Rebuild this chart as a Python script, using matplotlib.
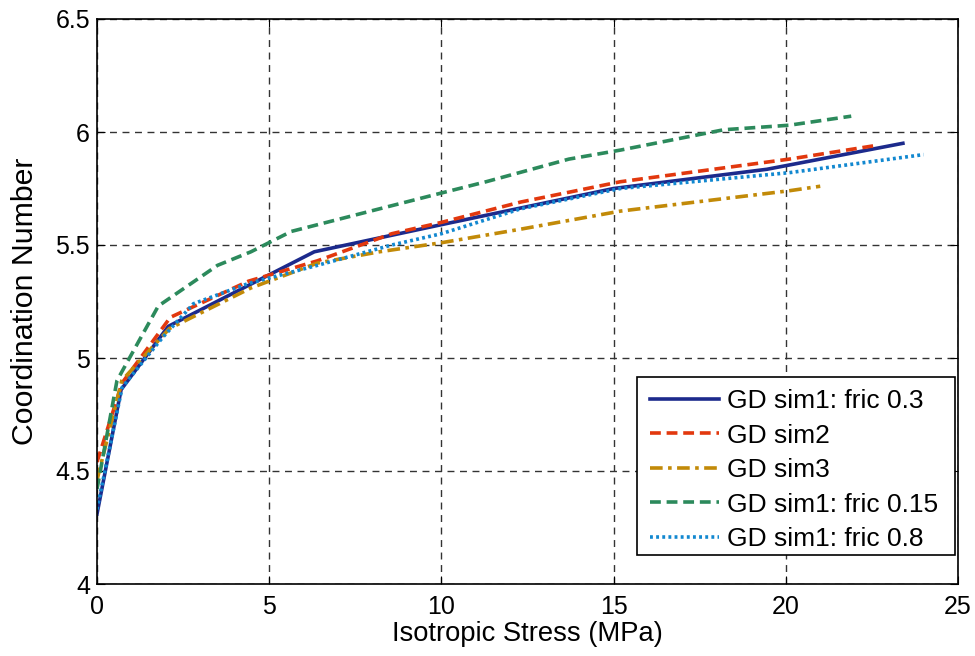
import matplotlib.pyplot as plt
from matplotlib.patches import Rectangle

plt.rcParams['font.family'] = ['Liberation Sans', 'DejaVu Sans']

# isotropic stress (MPa) and coordination number for each run
x_fric03 = [0, 0.70, 2.07, 4.38, 6.31, 10.0, 15.0, 19.45, 23.4]
y_fric03 = [4.31, 4.86, 5.14, 5.32, 5.47, 5.59, 5.75, 5.835, 5.95]

x_sim2 = [0, 0.73, 2.13, 4.4, 6.4, 8.56, 10.0, 12.3, 15.2, 20.1, 22.6]
y_sim2 = [4.54, 4.89, 5.18, 5.34, 5.43, 5.55, 5.60, 5.69, 5.78, 5.88, 5.94]

x_sim3 = [0, 0.72, 2.1, 4.47, 6.4, 8.2, 10.0, 12.3, 15.2, 20.1, 21.0]
y_sim3 = [4.46, 4.90, 5.13, 5.31, 5.42, 5.47, 5.51, 5.57, 5.65, 5.74, 5.76]

x_fric015 = [0, 0.58, 1.78, 3.5, 4.47, 5.64, 8.2, 10.0, 11.3, 13.7, 15.2, 18.2, 20.1, 21.9]
y_fric015 = [4.42, 4.90, 5.23, 5.41, 5.47, 5.56, 5.66, 5.73, 5.78, 5.88, 5.92, 6.01, 6.03, 6.07]

x_fric08 = [0, 0.73, 1.9, 2.8, 4.4, 6.4, 8.56, 10.0, 12.3, 15.2, 20.1, 24.0]
y_fric08 = [4.33, 4.87, 5.09, 5.24, 5.33, 5.41, 5.50, 5.55, 5.66, 5.75, 5.82, 5.90]

W, H = 975, 656
fig = plt.figure(figsize=(W / 100, H / 100), dpi=100)
ax = fig.add_axes([97 / W, (H - 584) / H, 861 / W, 565 / H])

ax.plot(x_fric03, y_fric03, color='#1c2a8c', lw=2.6, ls='-', label='GD sim1: fric 0.3')
ax.plot(x_sim2, y_sim2, color='#e2380e', lw=2.6, ls=(0, (3, 1.6)), label='GD sim2')
ax.plot(x_sim3, y_sim3, color='#c28a08', lw=2.6, ls=(0, (3.5, 1.5, 1, 1.5)), label='GD sim3')
ax.plot(x_fric015, y_fric015, color='#2c8a5c', lw=2.6, ls=(0, (3, 1.6)), label='GD sim1: fric 0.15')
ax.plot(x_fric08, y_fric08, color='#1288d0', lw=2.6, ls=(0, (0.8, 0.9)), label='GD sim1: fric 0.8')

ax.set_xlim(0, 25)
ax.set_ylim(4, 6.5)
ax.set_xticks([0, 5, 10, 15, 20, 25])
ax.set_yticks([4, 4.5, 5, 5.5, 6, 6.5])
ax.set_yticklabels(['4', '4.5', '5', '5.5', '6', '6.5'])

ax.grid(True, color='#333333', ls=(0, (5, 4)), lw=1.0)
ax.tick_params(direction='in', top=True, right=True, length=6, labelsize=18)
ax.tick_params(axis='x', pad=8)
ax.tick_params(axis='y', pad=5)
for s in ax.spines.values():
    s.set_linewidth(1.2)

ax.set_xlabel('Isotropic Stress (MPa)', fontsize=19.7)
ax.set_ylabel('Coordination Number', fontsize=21.8)
ax.xaxis.set_label_coords((527 - 97) / 861, -(621 - 584) / 565)
ax.yaxis.set_label_coords(-(97 - 39) / 861, 0.5)

# legend box (white, black edge) with the entries laid on top of it
box = Rectangle((637 / W, (H - 555) / H), 318 / W, 178 / H, transform=fig.transFigure,
                facecolor='white', edgecolor='black', lw=1.2, zorder=4, clip_on=False)
ax.add_patch(box)
leg = ax.legend(loc='upper left', bbox_to_anchor=(650 / W, (H - 389) / H),
                bbox_transform=fig.transFigure, borderaxespad=0, borderpad=0,
                frameon=False, fontsize=19, handlelength=2.6, handletextpad=0.3,
                labelspacing=0.40)
leg.set_zorder(5)

fig.savefig('out.png', dpi=100)
plt.close(fig)
